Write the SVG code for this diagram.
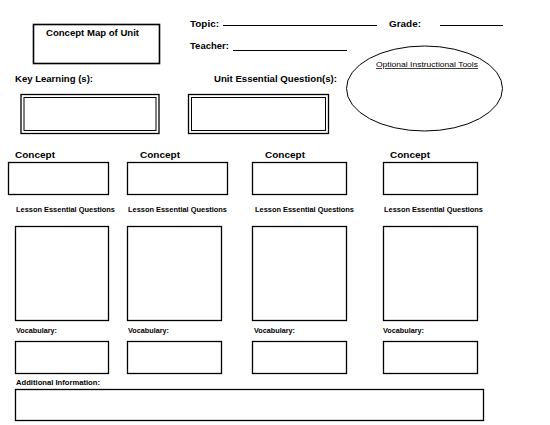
<svg xmlns="http://www.w3.org/2000/svg" width="550" height="425" viewBox="0 0 550 425">
<style>
.b{fill:none;stroke:#000;stroke-width:1.3}
.t{font-family:"Liberation Sans",Arial,sans-serif;font-weight:bold;fill:#000}
.h{font-size:9.5px}
.s{font-size:7px}
.ln{stroke:#000;stroke-width:1}
</style>
<rect width="550" height="425" fill="#fff"/>
<g id="title">
<rect class="b" x="33.5" y="24.5" width="126" height="39" style="stroke-width:1.6"/>
<text class="t h" x="46" y="36" textLength="93" lengthAdjust="spacingAndGlyphs">Concept Map of Unit</text>
</g>
<g id="header">
<text class="t h" x="190" y="27" textLength="29" lengthAdjust="spacingAndGlyphs">Topic:</text>
<line class="ln" x1="223" y1="25.5" x2="377" y2="25.5"/>
<text class="t h" x="389" y="27" textLength="32" lengthAdjust="spacingAndGlyphs">Grade:</text>
<line class="ln" x1="440" y1="25.5" x2="503" y2="25.5"/>
<text class="t h" x="190" y="49" textLength="39" lengthAdjust="spacingAndGlyphs">Teacher:</text>
<line class="ln" x1="233" y1="50.5" x2="347" y2="50.5"/>
</g>
<g id="tools">
<ellipse cx="424.5" cy="88.5" rx="78" ry="42.5" fill="none" stroke="#000" stroke-width="1"/>
<text x="376" y="67" font-family="Liberation Sans,Arial,sans-serif" font-size="7.5" text-decoration="underline" textLength="102" lengthAdjust="spacingAndGlyphs">Optional Instructional Tools</text>
</g>
<g id="key-learning">
<text class="t h" x="15" y="82" textLength="78" lengthAdjust="spacingAndGlyphs">Key Learning (s):</text>
<rect class="b" x="21" y="94.5" width="138" height="39"/>
<rect class="b" x="24" y="97.5" width="132" height="33" style="stroke-width:1"/>
</g>
<g id="unit-eq">
<text class="t h" x="214" y="82" textLength="123" lengthAdjust="spacingAndGlyphs">Unit Essential Question(s):</text>
<rect class="b" x="188.5" y="94.5" width="140" height="39"/>
<rect class="b" x="191.5" y="97.5" width="134" height="33" style="stroke-width:1"/>
</g>
<g id="col1">
<text class="t h" x="15" y="158" textLength="40" lengthAdjust="spacingAndGlyphs">Concept</text>
<rect class="b" x="8.5" y="162.5" width="100" height="32"/>
<text class="t s" x="16" y="212" textLength="99" lengthAdjust="spacingAndGlyphs">Lesson Essential Questions</text>
<rect class="b" x="15.5" y="226.5" width="93" height="94"/>
<text class="t s" x="16" y="333" textLength="41" lengthAdjust="spacingAndGlyphs">Vocabulary:</text>
<rect class="b" x="15.5" y="341.5" width="93" height="32"/>
</g>
<g id="col2">
<text class="t h" x="140" y="158" textLength="40" lengthAdjust="spacingAndGlyphs">Concept</text>
<rect class="b" x="127.5" y="162.5" width="100" height="32"/>
<text class="t s" x="128" y="212" textLength="99" lengthAdjust="spacingAndGlyphs">Lesson Essential Questions</text>
<rect class="b" x="127.5" y="226.5" width="94" height="94"/>
<text class="t s" x="128" y="333" textLength="41" lengthAdjust="spacingAndGlyphs">Vocabulary:</text>
<rect class="b" x="127.5" y="341.5" width="94" height="32"/>
</g>
<g id="col3">
<text class="t h" x="265" y="158" textLength="40" lengthAdjust="spacingAndGlyphs">Concept</text>
<rect class="b" x="252.5" y="162.5" width="94" height="32"/>
<text class="t s" x="255" y="212" textLength="99" lengthAdjust="spacingAndGlyphs">Lesson Essential Questions</text>
<rect class="b" x="252.5" y="226.5" width="94" height="94"/>
<text class="t s" x="254" y="333" textLength="41" lengthAdjust="spacingAndGlyphs">Vocabulary:</text>
<rect class="b" x="252.5" y="341.5" width="94" height="32"/>
</g>
<g id="col4">
<text class="t h" x="390" y="158" textLength="40" lengthAdjust="spacingAndGlyphs">Concept</text>
<rect class="b" x="383.5" y="162.5" width="94" height="32"/>
<text class="t s" x="384" y="212" textLength="99" lengthAdjust="spacingAndGlyphs">Lesson Essential Questions</text>
<rect class="b" x="383.5" y="226.5" width="94" height="94"/>
<text class="t s" x="383" y="333" textLength="41" lengthAdjust="spacingAndGlyphs">Vocabulary:</text>
<rect class="b" x="383.5" y="341.5" width="94" height="32"/>
</g>
<g id="additional">
<text class="t s" x="16" y="385" textLength="84" lengthAdjust="spacingAndGlyphs">Additional Information:</text>
<rect class="b" x="15.5" y="389.5" width="468" height="31"/>
</g>
<g id="connectors"/>
</svg>
